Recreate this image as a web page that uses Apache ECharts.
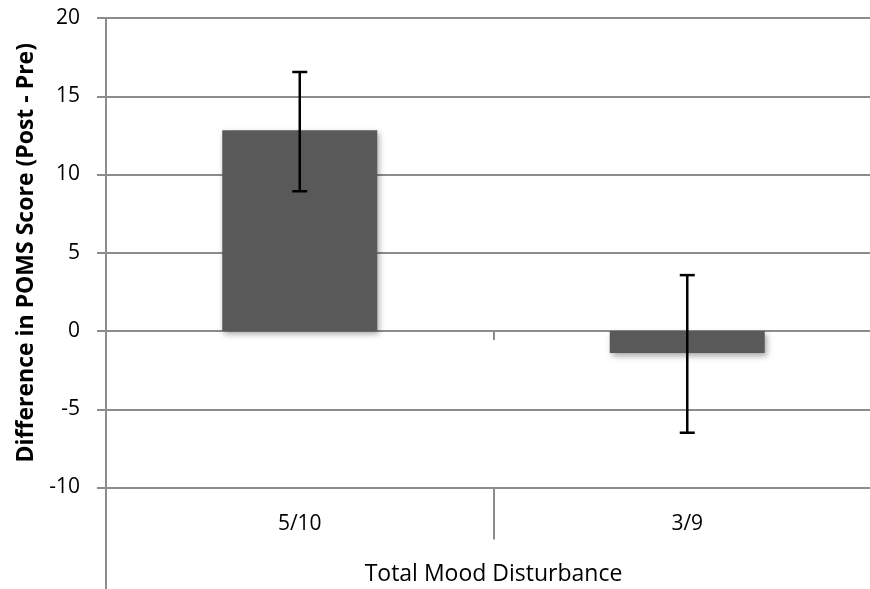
<!DOCTYPE html>
<html>
<head>
<meta charset="utf-8">
<script src="https://cdn.jsdelivr.net/npm/echarts@6/dist/echarts.min.js"></script>
<style>html,body{margin:0;padding:0;background:#fff;}#c{width:870px;height:589px;}</style>
</head>
<body>
<div id="c"></div>
<script>
var categories = ['5/10', '3/9'];
var meanDiff = [12.83, -1.4];
var errLow = [8.93, -6.5];
var errHigh = [16.55, 3.57];
var yTicks = { min: -10, max: 20, interval: 5 };

var FONT = '"Open Sans", sans-serif';
var chart = echarts.init(document.getElementById('c'), null, { renderer: 'canvas' });
var GRID_LEFT = 106, GRID_TOP = 18, GRID_H = 469.5, GRID_W = 775;

chart.setOption({
  animation: false,
  backgroundColor: '#ffffff',
  grid: { left: GRID_LEFT, top: GRID_TOP, width: GRID_W, height: GRID_H, containLabel: false, outerBoundsMode: 'none' },
  xAxis: [
    {
      type: 'category', data: categories, position: 'bottom',
      axisLine: { show: true, onZero: false, lineStyle: { color: '#8c8c8c', width: 2 } },
      axisTick: { show: true, length: 52, lineStyle: { color: '#8c8c8c', width: 2 } },
      axisLabel: { show: true, margin: 26, color: '#000', fontSize: 21, fontFamily: FONT },
      name: 'Total Mood Disturbance', nameLocation: 'middle', nameGap: 75,
      nameTextStyle: { color: '#000', fontSize: 23, fontFamily: FONT }
    },
    {
      type: 'category', data: categories, position: 'bottom',
      axisLine: { show: false, onZero: true },
      axisTick: { show: true, length: 9, lineStyle: { color: '#8c8c8c', width: 2 } },
      axisLabel: { show: false }
    }
  ],
  yAxis: {
    type: 'value', min: yTicks.min, max: yTicks.max, interval: yTicks.interval,
    axisLine: { show: true, lineStyle: { color: '#8c8c8c', width: 2 } },
    axisTick: { show: true, length: 9, lineStyle: { color: '#8c8c8c', width: 2 } },
    splitLine: { show: true, lineStyle: { color: '#8c8c8c', width: 2 } },
    axisLabel: { color: '#000', fontSize: 21, fontFamily: FONT, margin: 26 },
    name: 'Difference in POMS Score (Post - Pre)', nameLocation: 'middle', nameGap: 68,
    nameTextStyle: { color: '#000', fontSize: 23, fontWeight: 'bold', fontFamily: FONT }
  },
  series: [
    {
      type: 'bar', data: meanDiff, barWidth: '40%', xAxisIndex: 0,
      itemStyle: { color: '#595959', shadowColor: 'rgba(0,0,0,0.35)', shadowBlur: 6, shadowOffsetX: 2, shadowOffsetY: 3 }
    },
    {
      type: 'custom', xAxisIndex: 0, z: 5,
      data: categories.map(function (c, i) { return [i, errLow[i], errHigh[i]]; }),
      renderItem: function (params, api) {
        var lo = api.coord([api.value(0), api.value(1)]);
        var hi = api.coord([api.value(0), api.value(2)]);
        var hw = 7.5;
        var st = { stroke: '#000', lineWidth: 2.5 };
        return { type: 'group', children: [
          { type: 'line', shape: { x1: lo[0], y1: lo[1], x2: hi[0], y2: hi[1] }, style: st },
          { type: 'line', shape: { x1: lo[0] - hw, y1: lo[1], x2: lo[0] + hw, y2: lo[1] }, style: st },
          { type: 'line', shape: { x1: hi[0] - hw, y1: hi[1], x2: hi[0] + hw, y2: hi[1] }, style: st }
        ] };
      }
    }
  ],
  graphic: [
    { type: 'line', shape: { x1: GRID_LEFT, y1: GRID_TOP + GRID_H, x2: GRID_LEFT, y2: 589 }, style: { stroke: '#8c8c8c', lineWidth: 2 } }
  ]
});
</script>
</body>
</html>
